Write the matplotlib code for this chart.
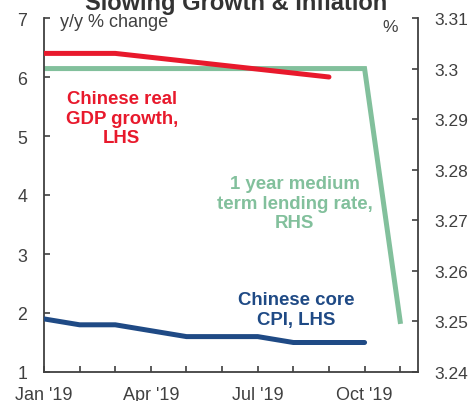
import matplotlib.pyplot as plt

plt.rcParams['font.family'] = ['Liberation Sans', 'DejaVu Sans']

# months from Jan '19 (0) onward
month_ticks = list(range(11))
month_labels = ["Jan '19", "", "", "Apr '19", "", "", "Jul '19", "", "", "Oct '19", ""]

# real GDP growth (quarterly readings), y/y %
gdp_x = [0, 2, 5, 8]
gdp_y = [6.4, 6.4, 6.2, 6.0]

# core CPI, y/y %
cpi_x = [0, 1, 2, 3, 4, 5, 6, 7, 8, 9]
cpi_y = [1.9, 1.8, 1.8, 1.7, 1.6, 1.6, 1.6, 1.5, 1.5, 1.5]

# 1 year MLF rate, %
mlf_x = [0, 1, 2, 3, 4, 5, 6, 7, 8, 9, 10]
mlf_y = [3.3, 3.3, 3.3, 3.3, 3.3, 3.3, 3.3, 3.3, 3.3, 3.3, 3.25]

RED = '#E8192C'
GREEN = '#82C09C'
NAVY = '#1F4A85'
AXC = '#404040'
TXT = '#404040'

fig = plt.figure(figsize=(4.72, 4.02), dpi=100)
ax = fig.add_axes([44 / 472, 1 - 373 / 402, 374 / 472, (373 - 19) / 402])
ax2 = ax.twinx()

ax2.plot(mlf_x, mlf_y, color=GREEN, lw=3.6, solid_joinstyle='miter', zorder=2)
ax.plot(gdp_x, gdp_y, color=RED, lw=3.6, solid_capstyle='round', zorder=3)
ax.plot(cpi_x, cpi_y, color=NAVY, lw=3.6, solid_capstyle='round', zorder=3)
ax.set_zorder(ax2.get_zorder() + 1)
ax.patch.set_visible(False)

ax.set_xlim(0, 10.5)
ax.set_ylim(1, 7)
ax2.set_ylim(3.24, 3.31)
ax.set_xticks(month_ticks)
ax.set_xticklabels(month_labels)
ax.set_yticks(range(1, 8))
ax2.set_yticks([3.24, 3.25, 3.26, 3.27, 3.28, 3.29, 3.30, 3.31])
ax2.set_yticklabels(['3.24', '3.25', '3.26', '3.27', '3.28', '3.29', '3.3', '3.31'])

for a in (ax, ax2):
    a.spines['top'].set_visible(False)
    for s in ('left', 'right', 'bottom'):
        a.spines[s].set_color(AXC)
        a.spines[s].set_linewidth(1.3)
ax.spines['right'].set_visible(False)
ax2.spines['left'].set_visible(False)
ax2.spines['bottom'].set_visible(False)

ax.tick_params(axis='y', direction='in', length=4, width=1.2, color=AXC,
               labelsize=12.8, labelcolor=TXT, pad=12)
ax.tick_params(axis='x', direction='in', length=4, width=1.2, color=AXC,
               labelsize=13, labelcolor=TXT, pad=10)
ax2.tick_params(axis='y', direction='in', length=4, width=1.2, color=AXC,
                labelsize=12.5, labelcolor=TXT, pad=12)

fig.text(236 / 472, 1 - 10 / 402, 'Slowing Growth & Inflation', ha='center',
         va='baseline', fontsize=17, fontweight='bold', color='#333333')
fig.text(60 / 472, 1 - 27 / 402, 'y/y % change', fontsize=13, color=TXT,
         va='baseline')
fig.text(390 / 472, 1 - 32 / 402, '%', fontsize=12.5, color=TXT, ha='center',
         va='baseline')

# series labels (positions give the baseline of the last line)
ax.text(2.18, 4.90, 'Chinese real\nGDP growth,\nLHS', color=RED, fontsize=13.4,
        fontweight='bold', ha='center', va='baseline', linespacing=1.17)
ax.text(7.04, 3.46, '1 year medium\nterm lending rate,\nRHS', color=GREEN,
        fontsize=13.4, fontweight='bold', ha='center', va='baseline',
        linespacing=1.17)
ax.text(7.09, 1.82, 'Chinese core\nCPI, LHS', color=NAVY, fontsize=13.4,
        fontweight='bold', ha='center', va='baseline', linespacing=1.2)

fig.savefig('out.png', dpi=100)
